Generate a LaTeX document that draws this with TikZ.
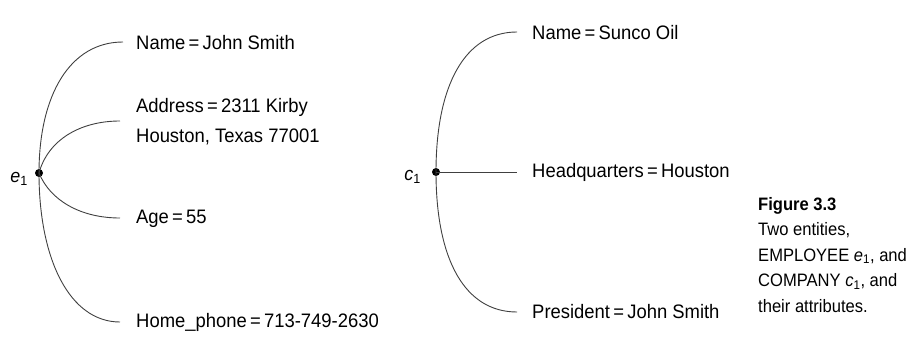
\documentclass[tikz,border=0pt]{standalone}
\usepackage{fontspec}
\setmainfont{Liberation Sans}[FakeStretch=0.945]
\newfontfamily\capfont{Liberation Sans}[FakeStretch=0.92]
\newcommand{\sbsc}[1]{\textsubscript{#1}}
\begin{document}
\begin{tikzpicture}[x=1pt,y=-1pt,
  attr/.style={anchor=west,inner sep=0pt,font=\fontsize{19.5}{30}\selectfont,align=left},
  link/.style={draw=black!75,line width=0.9pt},
  ent/.style={circle,fill=black,inner sep=0pt,minimum size=8pt},
  captext/.style={anchor=north west,inner sep=0pt,font=\capfont\fontsize{18}{25.5}\selectfont,align=left}]
\useasboundingbox (0,0) rectangle (912,342);
% Employee
\node[ent] (e1) at (39,173) {};
\node[anchor=east,inner sep=0pt,font=\fontsize{19}{20}\selectfont] (e1l) at (28,179) {\textit{e}\sbsc{1}};
\coordinate (en) at (123,42);
\coordinate (ea) at (120,121);
\coordinate (eg) at (120,218);
\coordinate (eh) at (120,322);
\node[attr] (tn) at (136,43) {Name\,=\,John Smith};
\node[attr] (ta) at (136,122) {Address\,=\,2311 Kirby\\Houston, Texas 77001};
\node[attr] (tg) at (136,219) {Age\,=\,55};
\node[attr] (th) at (136,322) {Home\_phone\,=\,713-749-2630};
\draw[link] (e1.center) .. controls (39,95) and (70,42) .. (en);
\draw[link] (e1.center) .. controls (48,140) and (80,121) .. (ea);
\draw[link] (e1.center) .. controls (50,200) and (80,218) .. (eg);
\draw[link] (e1.center) .. controls (39,260) and (70,322) .. (eh);
% Company
\node[ent] (c1) at (436,172) {};
\node[anchor=east,inner sep=0pt,font=\fontsize{19}{20}\selectfont] (c1l) at (421,177) {\textit{c}\sbsc{1}};
\coordinate (cn) at (517,32);
\coordinate (ch) at (517,172);
\coordinate (cp) at (517,312);
\node[attr] (sn) at (532,33) {Name\,=\,Sunco Oil};
\node[attr] (sh) at (532,172) {Headquarters\,=\,Houston};
\node[attr] (sp) at (532,312) {President\,=\,John Smith};
\draw[link] (c1.center) .. controls (436,85) and (465,32) .. (cn);
\draw[link] (c1.center) -- (ch);
\draw[link] (c1.center) .. controls (436,260) and (465,312) .. (cp);
% Caption
\node[captext] (capt) at (758,197) {\textbf{Figure 3.3}\\Two entities,\\EMPLOYEE \textit{e}\sbsc{1}, and\\COMPANY \textit{c}\sbsc{1}, and\\their attributes.};
\end{tikzpicture}
\end{document}
